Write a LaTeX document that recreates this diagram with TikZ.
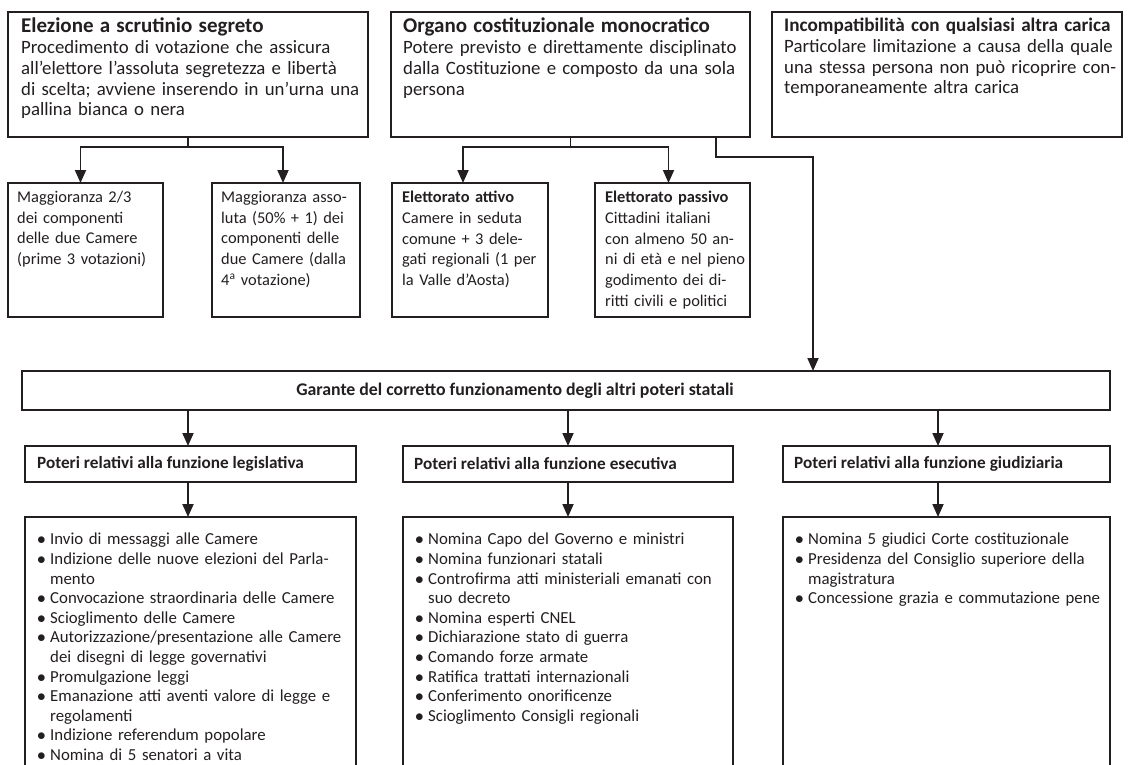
\documentclass[tikz,border=0pt]{standalone}
\usepackage{fontspec}
\setmainfont{Carlito}
\usetikzlibrary{arrows.meta}
\definecolor{ink}{HTML}{231F20}
\newcommand{\itm}[1]{\par\hangindent=13pt\hangafter=1\noindent\makebox[13pt][l]{$\bullet$}#1}
\newcommand{\jl}[1]{\makebox[\linewidth][s]{#1}}
\newcommand{\ttl}[2]{\mbox{\bfseries\fontsize{#1}{20.7}\selectfont #2}}
\begin{document}
\begin{tikzpicture}[x=1pt,y=-1pt,
  box/.style={draw=ink, line width=1.8pt, inner sep=0pt, outer sep=0pt, anchor=north west},
  txt/.style={anchor=north west, inner sep=0pt, text=ink, align=left},
  bigtxt/.style={txt, font=\fontsize{18.8}{20.7}\selectfont},
  smalltxt/.style={txt, font=\fontsize{16.4}{20.7}\selectfont},
  listtxt/.style={txt, font=\fontsize{16.8}{19.6}\selectfont},
  headtxt/.style={anchor=west, inner sep=0pt, text=ink, font=\bfseries\fontsize{17.2}{19}\selectfont},
  arr/.style={draw=ink, line width=1.8pt, -{Triangle[width=11pt,length=13pt]}},
]
\clip (0,0) rectangle (1130,764);
\fill[white] (0,0) rectangle (1130,764);

% top row boxes
\node[box, minimum width=360pt, minimum height=125pt] (b1) at (8,12) {};
\node[box, minimum width=359pt, minimum height=125pt] (b2) at (391,12) {};
\node[box, minimum width=350pt, minimum height=125pt] (b3) at (772,12) {};

\node[bigtxt, text width=342pt] (t1) at (21,18) {\ttl{21}{Elezione a scrutinio segreto}\\
\jl{Procedimento di votazione che assicura}\\
\jl{all’elettore l’assoluta segretezza e libertà}\\
\jl{di scelta; avviene inserendo in un’urna una}\\
pallina bianca o nera};
\node[bigtxt, text width=341pt] (t2) at (403,18) {\ttl{21}{Organo costituzionale monocratico}\\
\jl{Potere previsto e direttamente disciplinato}\\
\jl{dalla Costituzione e composto da una sola}\\
persona};
\node[bigtxt, text width=332pt] (t3) at (784,18) {\ttl{19.2}{Incompatibilità con qualsiasi altra carica}\\
\jl{Particolare limitazione a causa della quale}\\
\jl{una stessa persona non può ricoprire con-}\\
temporaneamente altra carica};

% second row boxes
\node[box, minimum width=155pt, minimum height=134pt] (c1a) at (8,183) {};
\node[box, minimum width=148pt, minimum height=134pt] (c1b) at (212,183) {};
\node[box, minimum width=156pt, minimum height=134pt] (c2a) at (392,183) {};
\node[box, minimum width=155pt, minimum height=134pt] (c2b) at (595,183) {};

\node[smalltxt, text width=136pt] (s1a) at (17,191) {\jl{Maggioranza 2/3}\\
\jl{dei componenti}\\
\jl{delle due Camere}\\
\mbox{(prime 3 votazioni)}};
\node[smalltxt, text width=130pt] (s1b) at (221,191) {\jl{Maggioranza asso-}\\
\jl{luta (50\% + 1) dei}\\
\jl{componenti delle}\\
\jl{due Camere (dalla}\\
\mbox{4\textsuperscript{a} votazione)}};
\node[smalltxt, text width=136pt] (s2a) at (402,191) {\jl{\textbf{Elettorato attivo}}\\
\jl{Camere in seduta}\\
\jl{comune + 3 dele-}\\
\jl{gati regionali (1 per}\\
\mbox{la Valle d’Aosta)}};
\node[smalltxt, text width=136pt] (s2b) at (605,191) {\jl{\textbf{Elettorato passivo}}\\
\jl{Cittadini italiani}\\
\jl{con almeno 50 an-}\\
\jl{ni di età e nel pieno}\\
\jl{godimento dei di-}\\
\jl{ritti civili e politici}};

% main box
\node[box, minimum width=1088pt, minimum height=39pt] (main) at (22,371) {};
\node[anchor=center, inner sep=0pt, text=ink, font=\bfseries\fontsize{17.8}{19}\selectfont] (mt) at (515,391) {Garante del corretto funzionamento degli altri poteri statali};

% header boxes
\node[box, minimum width=331pt, minimum height=36pt] (h1) at (25,446) {};
\node[box, minimum width=330pt, minimum height=36pt] (h2) at (403,446) {};
\node[box, minimum width=327pt, minimum height=36pt] (h3) at (783,446) {};
\node[headtxt] (ht1) at (37,464) {Poteri relativi alla funzione legislativa};
\node[headtxt] (ht2) at (414,464) {Poteri relativi alla funzione esecutiva};
\node[headtxt] (ht3) at (794,464) {Poteri relativi alla funzione giudiziaria};

% list boxes (open at the bottom, cut by the page edge)
\node[box, minimum width=331pt, minimum height=270pt] (l1) at (25,517) {};
\node[box, minimum width=330pt, minimum height=270pt] (l2) at (403,517) {};
\node[box, minimum width=327pt, minimum height=270pt] (l3) at (783,517) {};

\node[listtxt, text width=318pt] (lt1) at (37,525) {%
\itm{Invio di messaggi alle Camere}
\itm{Indizione delle nuove elezioni del Parla-\newline mento}
\itm{Convocazione straordinaria delle Camere}
\itm{Scioglimento delle Camere}
\itm{Autorizzazione/presentazione alle Camere\newline dei disegni di legge governativi}
\itm{Promulgazione leggi}
\itm{Emanazione atti aventi valore di legge e\newline regolamenti}
\itm{Indizione referendum popolare}
\itm{Nomina di 5 senatori a vita}};
\node[listtxt, text width=318pt] (lt2) at (415,525) {%
\itm{Nomina Capo del Governo e ministri}
\itm{Nomina funzionari statali}
\itm{Controfirma atti ministeriali emanati con\newline suo decreto}
\itm{Nomina esperti CNEL}
\itm{Dichiarazione stato di guerra}
\itm{Comando forze armate}
\itm{Ratifica trattati internazionali}
\itm{Conferimento onorificenze}
\itm{Scioglimento Consigli regionali}};
\node[listtxt, text width=318pt] (lt3) at (795,525) {%
\itm{Nomina 5 giudici Corte costituzionale}
\itm{Presidenza del Consiglio superiore della\newline magistratura}
\itm{Concessione grazia e commutazione pene}};

% connectors, top row
\draw[arr] (b1.south) -- ++(0,10) -| ([xshift=-5pt]c1a.north);
\draw[arr] (b1.south) -- ++(0,10) -| ([xshift=-3pt]c1b.north);
\draw[arr] (b2.south) -- ++(0,10) -| ([xshift=-7pt]c2a.north);
\draw[arr] (b2.south) -- ++(0,10) -| ([xshift=-4pt]c2b.north);
\coordinate (m) at (813,0);
\draw[arr] ([xshift=-34pt]b2.south east) -- ++(0,20) -| (m |- main.north);

% connectors, lower part
\coordinate (a1) at (188,0);
\coordinate (a2) at (568,0);
\coordinate (a3) at (938,0);
\draw[arr] (a1 |- main.south) -- (a1 |- h1.north);
\draw[arr] (a2 |- main.south) -- (a2 |- h2.north);
\draw[arr] (a3 |- main.south) -- (a3 |- h3.north);
\draw[arr] (a1 |- h1.south) -- (a1 |- l1.north);
\draw[arr] (a2 |- h2.south) -- (a2 |- l2.north);
\draw[arr] (a3 |- h3.south) -- (a3 |- l3.north);
\end{tikzpicture}
\end{document}
